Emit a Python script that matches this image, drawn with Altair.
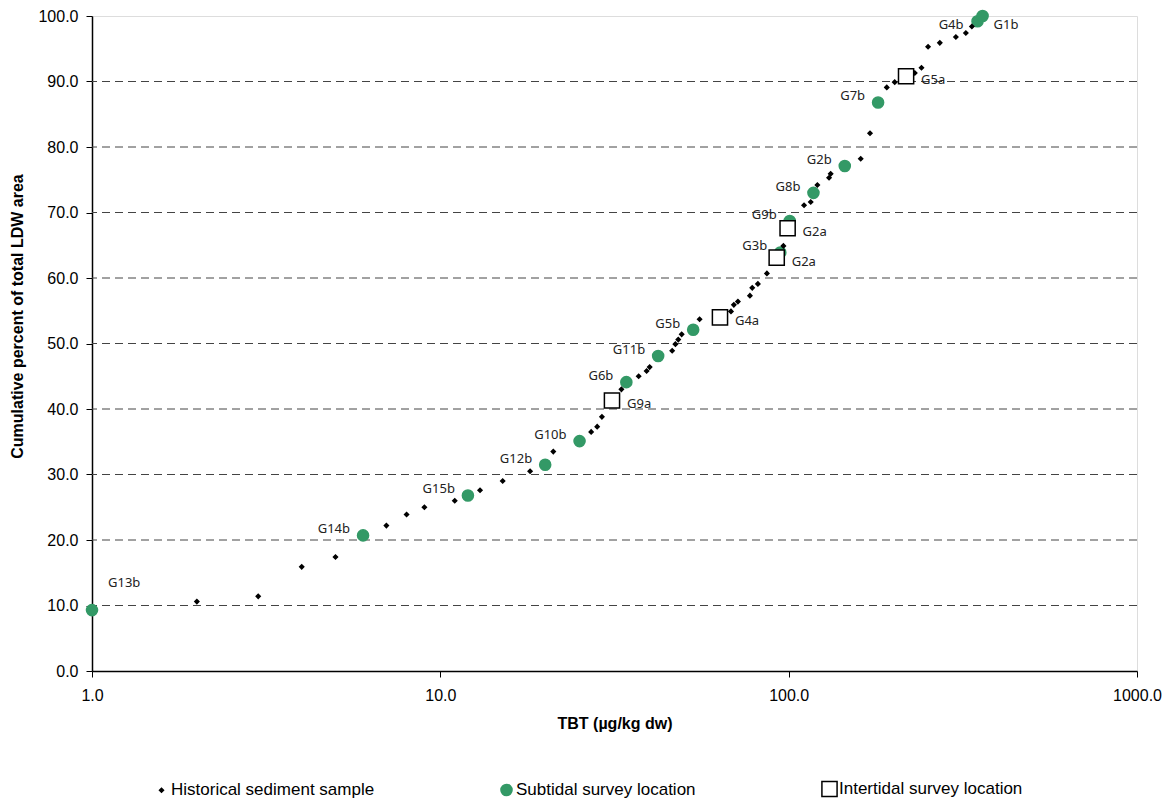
import altair as alt
import pandas as pd

# Historical sediment samples (TBT, cumulative %)
hist_x = [2.0, 3.0, 4.0, 5.0, 7.0, 8.0, 9.0, 11.0, 13.0, 15.1, 18.1, 21.1, 27.1, 28.2, 29.1,
          33.1, 37.1, 39.1, 39.9, 46.3, 47.3, 48.2, 49.3, 55.5, 68.3, 69.6, 71.5, 77.4, 78.6,
          81.6, 86.6, 96.6, 110.7, 115.7, 120.9, 130.6, 132.0, 161.0, 171.2, 191.3, 201.6,
          230.2, 240.6, 251.3, 271.6, 302.0, 322.6, 335.7]
hist_y = [10.6, 11.4, 15.9, 17.4, 22.2, 23.9, 25.0, 26.0, 27.6, 29.0, 30.5, 33.5, 36.5, 37.3, 38.8,
          43.0, 45.0, 45.8, 46.4, 48.9, 49.9, 50.6, 51.4, 53.7, 54.9, 55.9, 56.4, 57.3, 58.5,
          59.1, 60.7, 64.9, 71.1, 71.6, 74.2, 75.3, 75.9, 78.2, 82.1, 89.1, 89.9,
          91.3, 92.1, 95.3, 95.9, 96.8, 97.4, 98.4]

# Subtidal survey locations
sub_names = ["G13b", "G14b", "G15b", "G12b", "G10b", "G6b", "G11b", "G5b", "G3b", "G9b",
             "G8b", "G2b", "G7b", "G4b", "G1b"]
sub_x = [1.0, 6.0, 12.0, 20.0, 25.1, 34.2, 42.2, 53.2, 94.6, 100.7, 117.8, 144.9, 180.6, 348.5, 360.3]
sub_y = [9.3, 20.7, 26.8, 31.5, 35.1, 44.1, 48.1, 52.1, 63.9, 68.7, 73.0, 77.1, 86.8, 99.2, 100.0]

# Intertidal survey locations
inter_names = ["G9a", "G4a", "G2a", "G2a", "G5a"]
inter_x = [31.1, 63.5, 92.4, 99.3, 217.3]
inter_y = [41.3, 54.0, 63.1, 67.6, 90.8]

x_ticks = [1, 10, 100, 1000]
y_ticks = [0, 10, 20, 30, 40, 50, 60, 70, 80, 90, 100]
y_grid = [10, 20, 30, 40, 50, 60, 70, 80, 90]

types = ["Historical sediment sample", "Subtidal survey location", "Intertidal survey location"]

rows = []
for n, x, y in zip(sub_names, sub_x, sub_y):
    rows.append({"name": n, "tbt": x, "pct": y, "type": types[1]})
for x, y in zip(hist_x, hist_y):
    rows.append({"name": "", "tbt": x, "pct": y, "type": types[0]})
for n, x, y in zip(inter_names, inter_x, inter_y):
    rows.append({"name": n, "tbt": x, "pct": y, "type": types[2]})
df = pd.DataFrame(rows)

xscale = alt.Scale(type="log", domain=[1, 1000])
yscale = alt.Scale(domain=[0, 100])

X = alt.X("tbt:Q", scale=xscale,
          axis=alt.Axis(values=x_ticks, format=".1f", title="TBT (µg/kg dw)", grid=False,
                        tickSize=6, labelPadding=10, titlePadding=12, labelFontSize=16,
                        titleFontSize=16, titleFontWeight="bold", labelFont="Liberation Sans",
                        titleFont="Liberation Sans", domainColor="black", tickColor="black",
                        labelColor="black", titleColor="black", domainWidth=1.5,
                        labelFlush=False))
Y = alt.Y("pct:Q", scale=yscale,
          axis=alt.Axis(values=y_ticks, format=".1f",
                        title="Cumulative percent of total LDW area", grid=False,
                        tickSize=6, labelPadding=8, titlePadding=12, labelFontSize=16,
                        titleFontSize=16, titleFontWeight="bold", labelFont="Liberation Sans",
                        titleFont="Liberation Sans", domainColor="black", tickColor="black",
                        labelColor="black", titleColor="black", domainWidth=1.5,
                        titleY=300))

grid = alt.Chart(pd.DataFrame({"g": y_grid})).mark_rule(
    color="#444", strokeDash=[8, 5], strokeWidth=1
).encode(y=alt.Y("g:Q", scale=yscale))

legend = alt.Legend(title=None, orient="none", legendX=61, legendY=764, direction="horizontal",
                    columns=3, columnPadding=122, labelFontSize=17, labelFont="Liberation Sans",
                    labelColor="black", symbolStrokeWidth=1.5, labelOffset=1, padding=0,
                    labelLimit=400)

points = alt.Chart(df).mark_point(filled=True, opacity=1, strokeWidth=1.5).encode(
    x=X, y=Y,
    shape=alt.Shape("type:N", scale=alt.Scale(domain=types, range=["diamond", "circle", "square"]),
                    legend=legend),
    fill=alt.Fill("type:N", scale=alt.Scale(domain=types, range=["black", "#339966", "white"]),
                  legend=legend),
    stroke=alt.Stroke("type:N", scale=alt.Scale(domain=types, range=["black", "#339966", "black"]),
                      legend=legend),
    size=alt.Size("type:N", scale=alt.Scale(domain=types, range=[16, 230, 100]), legend=legend),
)

is_sub = df["type"] == types[1]
sub_df = df[is_sub & (~df["name"].isin(["G13b", "G1b", "G4b"]))]
g4_df = df[is_sub & (df["name"] == "G4b")]
g1_df = df[is_sub & (df["name"] == "G1b")]
g13_df = df[is_sub & (df["name"] == "G13b")]
int_df = df[df["type"] == types[2]]

tstyle = dict(font="Noto Sans", fontSize=13, color="#222")


def labels(data, **kw):
    return alt.Chart(data).mark_text(baseline="middle", **kw, **tstyle).encode(
        x=alt.X("tbt:Q", scale=xscale), y=alt.Y("pct:Q", scale=yscale), text="name:N")


sub_labels = labels(sub_df, align="right", dx=-13, dy=-6)
g4_label = labels(g4_df, align="right", dx=-14, dy=4)
g1_label = labels(g1_df, align="left", dx=11, dy=9)
g13_label = labels(g13_df, align="left", dx=16, dy=-27)
int_labels = labels(int_df, align="left", dx=15, dy=4)

chart = alt.layer(grid, points, sub_labels, g4_label, g1_label, g13_label, int_labels).properties(
    width=1045, height=655,
    autosize=alt.AutoSizeParams(type="none"),
    padding={"left": 84, "top": 8, "right": 28, "bottom": 128},
).configure_view(stroke="#999", strokeWidth=1.5).configure(background="white")

chart.save("out.html", embed_options={"renderer": "svg", "actions": False})
